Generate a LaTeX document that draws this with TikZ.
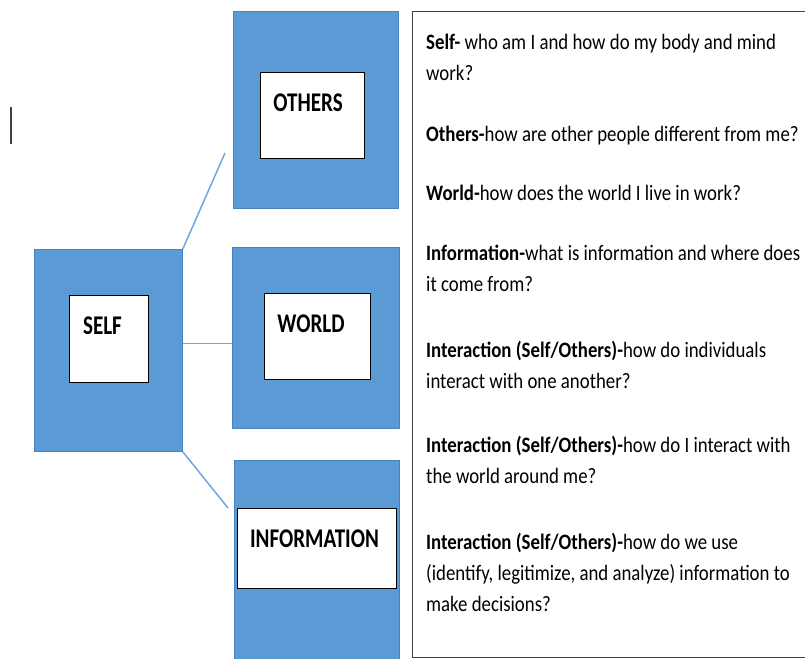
\documentclass[tikz,border=0pt]{standalone}
\usepackage{fontspec}
\setmainfont{Carlito}[FakeStretch=0.78]
\newfontfamily\bodyfont{Carlito}[FakeStretch=0.855]
\definecolor{boxblue}{HTML}{5B9BD5}
\definecolor{boxedge}{HTML}{4A82C0}
\definecolor{linkblue}{HTML}{6FA8DC}
\definecolor{frame}{HTML}{404040}
\tikzset{
  bluebox/.style={fill=boxblue, draw=boxedge, line width=0.8pt, anchor=north west, inner sep=0pt},
  whitebox/.style={fill=white, draw=black, line width=1.4pt, anchor=north west, inner sep=0pt},
  boxlabel/.style={anchor=base, inner sep=0pt, font=\fontsize{27}{30}\selectfont\bfseries},
  link/.style={draw=linkblue, line width=1.5pt},
  bodyline/.style={anchor=base west, inner sep=0pt, font=\bodyfont\fontsize{22}{30}\selectfont},
}
\begin{document}
\begin{tikzpicture}[x=1pt,y=-1pt]
\useasboundingbox (0,0) rectangle (805,658);
\clip (0,0) rectangle (805,658);
% cursor mark
\draw[frame, line width=1.2pt] (11,107) -- (11,144);
% blue boxes
\node[bluebox, minimum width=148pt, minimum height=202pt] (self) at (34,249) {};
\node[bluebox, minimum width=165pt, minimum height=197pt] (others) at (233,11) {};
\node[bluebox, minimum width=167pt, minimum height=181pt] (world) at (232,247) {};
\node[bluebox, minimum width=165pt, minimum height=230pt] (info) at (234,460) {};
% white boxes
\node[whitebox, minimum width=79pt, minimum height=87pt] (selfw) at (69,295) {};
\node[whitebox, minimum width=104pt, minimum height=86pt] (othersw) at (260,72) {};
\node[whitebox, minimum width=106pt, minimum height=86pt] (worldw) at (264,293) {};
\node[whitebox, minimum width=159pt, minimum height=80pt] (infow) at (237,508) {};
% labels
\node[boxlabel] (selft) at (102.5,334) {SELF};
\node[boxlabel] (otherst) at (308,111) {OTHERS};
\node[boxlabel] (worldt) at (311,332) {WORLD};
\node[boxlabel] (infot) at (314.5,547) {INFORMATION};
% connectors
\coordinate (c1) at (225,153);
\coordinate (c3) at (228,508);
\draw[link] (self.north east) -- (c1);
\draw[link] ([yshift=7pt]self.east) coordinate (s2) -- (s2 -| world.west);
\draw[link] (self.south east) -- (c3);
% text frame
\node[draw=frame, line width=1.4pt, anchor=north west, inner sep=0pt, minimum width=420pt, minimum height=646pt] (panel) at (412,11) {};
% text lines
\node[bodyline] (l1) at (426,49.5) {\textbf{Self-} who am I and how do my body and mind};
\node[bodyline] (l2) at (426,80.5) {work?};
\node[bodyline] (l3) at (426,141) {\textbf{Others-}how are other people different from me?};
\node[bodyline] (l4) at (426,200.5) {\textbf{World-}how does the world I live in work?};
\node[bodyline] (l5) at (426,260.5) {\textbf{Information-}what is information and where does};
\node[bodyline] (l6) at (426,291.5) {it come from?};
\node[bodyline] (l7) at (426,357.5) {\textbf{Interaction (Self/Others)-}how do individuals};
\node[bodyline] (l8) at (426,388.5) {interact with one another?};
\node[bodyline] (l9) at (426,452.5) {\textbf{Interaction (Self/Others)-}how do I interact with};
\node[bodyline] (l10) at (426,483.5) {the world around me?};
\node[bodyline] (l11) at (426,549.5) {\textbf{Interaction (Self/Others)-}how do we use};
\node[bodyline] (l12) at (426,580.5) {(identify, legitimize, and analyze) information to};
\node[bodyline] (l13) at (426,611.5) {make decisions?};
\end{tikzpicture}
\end{document}
